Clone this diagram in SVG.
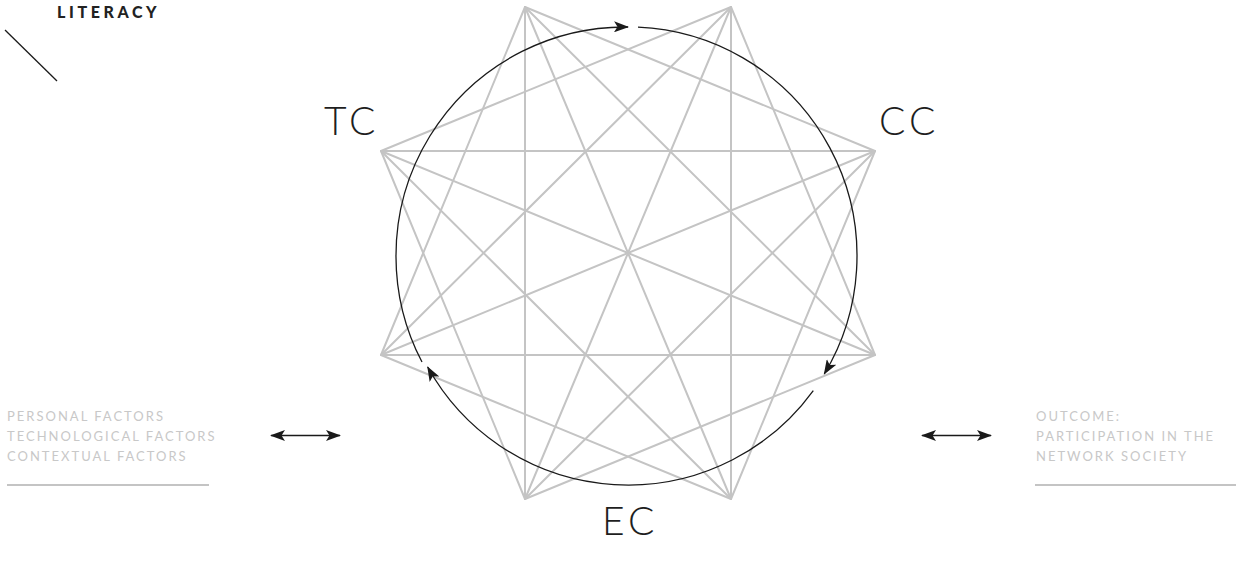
<svg xmlns="http://www.w3.org/2000/svg" width="1236" height="568" viewBox="0 0 1236 568">
<style>
.star{stroke:#c4c4c4;stroke-width:2;fill:none;stroke-linecap:round}
.arc{stroke:#1a1a1a;stroke-width:1.3;fill:none}
.big{font-family:Lato,"Liberation Sans",sans-serif;font-weight:300;font-size:39px;fill:#1e1e1e;letter-spacing:4px}
.side{font-family:Lato,"Liberation Sans",sans-serif;font-weight:400;font-size:13px;fill:#c8c8c8;letter-spacing:2px}
.rule{stroke:#c4c4c4;stroke-width:2}
.dbl{stroke:#1a1a1a;stroke-width:1.5}
</style>
<defs>
<marker id="ah" viewBox="0 0 15 11" refX="14" refY="5.5" markerWidth="15" markerHeight="11" markerUnits="userSpaceOnUse" orient="auto">
<path d="M0,0 L15,5.5 L0,11 L3.5,5.5 Z" fill="#1a1a1a"/>
</marker>
<marker id="ah2" viewBox="0 0 15 11" refX="14" refY="5.5" markerWidth="15" markerHeight="11" markerUnits="userSpaceOnUse" orient="auto-start-reverse">
<path d="M0,0 L15,5.5 L0,11 L3.5,5.5 Z" fill="#1a1a1a"/>
</marker>
</defs>
<g id="title">
<text x="57" y="17.5" font-family="Lato,'Liberation Sans',sans-serif" font-weight="900" font-size="16" letter-spacing="3.6" fill="#222">LITERACY</text>
<line x1="5" y1="30" x2="57" y2="81" stroke="#1a1a1a" stroke-width="1.3"/>
</g>
<g id="star">
<line class="star" x1="525" y1="7" x2="875" y2="151"/>
<line class="star" x1="731" y1="7" x2="875" y2="355"/>
<line class="star" x1="875" y1="151" x2="731" y2="499"/>
<line class="star" x1="875" y1="355" x2="525" y2="499"/>
<line class="star" x1="731" y1="499" x2="381" y2="355"/>
<line class="star" x1="525" y1="499" x2="381" y2="151"/>
<line class="star" x1="381" y1="355" x2="525" y2="7"/>
<line class="star" x1="381" y1="151" x2="731" y2="7"/>
<line class="star" x1="525" y1="7" x2="875" y2="355"/>
<line class="star" x1="731" y1="7" x2="731" y2="499"/>
<line class="star" x1="875" y1="151" x2="525" y2="499"/>
<line class="star" x1="875" y1="355" x2="381" y2="355"/>
<line class="star" x1="731" y1="499" x2="381" y2="151"/>
<line class="star" x1="525" y1="499" x2="525" y2="7"/>
<line class="star" x1="381" y1="355" x2="731" y2="7"/>
<line class="star" x1="381" y1="151" x2="875" y2="151"/>
<line class="star" x1="525" y1="7" x2="731" y2="499"/>
<line class="star" x1="731" y1="7" x2="525" y2="499"/>
<line class="star" x1="875" y1="151" x2="381" y2="355"/>
<line class="star" x1="875" y1="355" x2="381" y2="151"/>
</g>
<g id="cycle">
<path class="arc" d="M638,27.2 A229,229 0 0 1 824.3,373.9" marker-end="url(#ah)"/>
<path class="arc" d="M813.3,390.6 A229,229 0 0 1 427.7,367" marker-end="url(#ah)"/>
<path class="arc" d="M422,362 A229,229 0 0 1 628,27" marker-end="url(#ah)"/>
</g>
<g id="tc"><text class="big" x="324" y="135">TC</text></g>
<g id="cc"><text class="big" x="879" y="135">CC</text></g>
<g id="ec"><text class="big" x="602" y="535">EC</text></g>
<g id="factors">
<text class="side" x="7" y="421">PERSONAL FACTORS</text>
<text class="side" x="7" y="441">TECHNOLOGICAL FACTORS</text>
<text class="side" x="7" y="461">CONTEXTUAL FACTORS</text>
<line class="rule" x1="7" y1="485" x2="209" y2="485"/>
</g>
<g id="outcome">
<text class="side" x="1036" y="421">OUTCOME:</text>
<text class="side" x="1036" y="441">PARTICIPATION IN THE</text>
<text class="side" x="1036" y="461">NETWORK SOCIETY</text>
<line class="rule" x1="1035" y1="485" x2="1236" y2="485"/>
</g>
<g id="connectors">
<line class="dbl" x1="271" y1="435.5" x2="340" y2="435.5" marker-start="url(#ah2)" marker-end="url(#ah)"/>
<line class="dbl" x1="922" y1="435.5" x2="991" y2="435.5" marker-start="url(#ah2)" marker-end="url(#ah)"/>
</g>
</svg>
